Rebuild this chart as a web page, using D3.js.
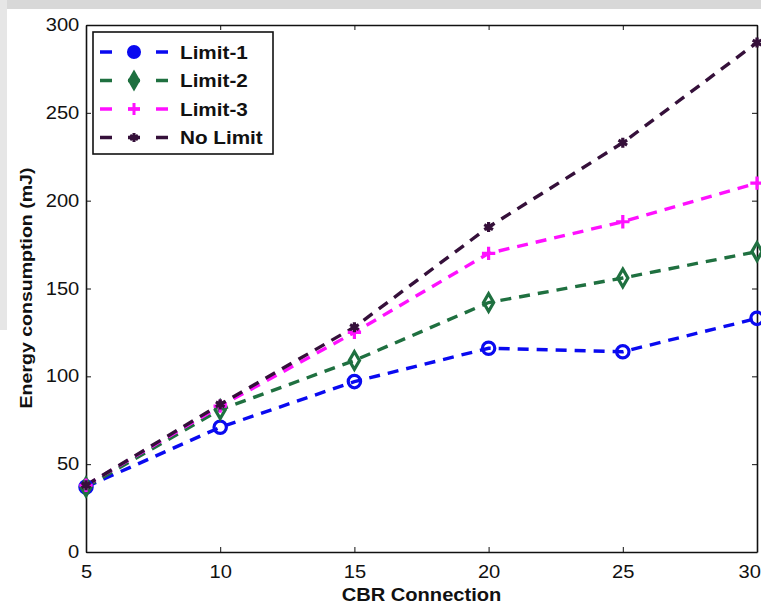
<!DOCTYPE html>
<html>
<head>
<meta charset="utf-8">
<script src="https://cdn.jsdelivr.net/npm/d3@7"></script>
<style>
  body { margin: 0; background: #fff; }
  text { font-family: "Liberation Sans", Arial, sans-serif; fill: #111; }
</style>
</head>
<body>
<svg class="chart"></svg>
<script>
const width = 761;
const height = 605;

// data
const connections = [5, 10, 15, 20, 25, 30];
const limit1 = [37, 71, 97, 116, 114, 133];
const limit2 = [37, 81, 109, 142, 156, 171];
const limit3 = [38, 83, 125, 170, 188, 210];
const noLimit = [38, 84, 128, 185, 233, 290];
const seriesNames = ['Limit-1', 'Limit-2', 'Limit-3', 'No Limit'];
const xTicks = [5, 10, 15, 20, 25, 30];
const yTicks = [0, 50, 100, 150, 200, 250, 300];

const series = [
  { name: seriesNames[0], values: limit1, color: '#0a0af0', symbol: d3.symbolCircle, size: 120 },
  { name: seriesNames[1], values: limit2, color: '#1f7040', symbol: d3.symbolDiamond, size: 90 },
  { name: seriesNames[2], values: limit3, color: '#ff10ff', symbol: d3.symbolPlus, size: 60 },
  { name: seriesNames[3], values: noLimit, color: '#35103a', symbol: d3.symbolAsterisk, size: 70 }
];

const margin = { top: 25, right: 4, bottom: 53, left: 86 };
const svg = d3.select('.chart').attr('width', width).attr('height', height);

// grey scan bands from the source page
svg.append('rect').attr('x', 0).attr('y', 0).attr('width', width).attr('height', 9).attr('fill', '#d8d8d8');
svg.append('rect').attr('x', 0).attr('y', 0).attr('width', 7).attr('height', 330).attr('fill', '#e6e6e6');

const x = d3.scaleLinear().domain([5, 30]).range([margin.left, width - margin.right]);
const y = d3.scaleLinear().domain([0, 300]).range([height - margin.bottom, margin.top]);
const stretch = 'scale(1.15,1)';

// axes with inward ticks
const xAxis = svg.append('g')
  .attr('transform', `translate(0,${y(0)})`)
  .call(d3.axisBottom(x).tickValues(xTicks).tickSize(-5).tickPadding(14).tickSizeOuter(0));
const xTop = svg.append('g')
  .attr('transform', `translate(0,${y(300)})`)
  .call(d3.axisTop(x).tickValues(xTicks).tickSize(-5).tickFormat('').tickSizeOuter(0));
const yAxis = svg.append('g')
  .attr('transform', `translate(${x(5)},0)`)
  .call(d3.axisLeft(y).tickValues(yTicks).tickSize(-5).tickPadding(6).tickSizeOuter(0));
const yRight = svg.append('g')
  .attr('transform', `translate(${x(30)},0)`)
  .call(d3.axisRight(y).tickValues(yTicks).tickSize(-5).tickFormat('').tickSizeOuter(0));

[xAxis, xTop, yAxis, yRight].forEach(g => {
  g.select('.domain').attr('stroke', '#111').attr('stroke-width', 1.6);
  g.selectAll('.tick line').attr('stroke', '#111').attr('stroke-width', 1);
});
xAxis.selectAll('text').style('font-size', '17.5px').attr('fill', '#222').attr('transform', stretch);
// the last label sits at the page edge; keep it inside
xAxis.selectAll('.tick').filter(d => d === 30).select('text')
  .attr('text-anchor', 'end').attr('x', 3);
yAxis.selectAll('text').style('font-size', '17.5px').attr('fill', '#222')
  .attr('x', -5).attr('transform', 'translate(-1,0) ' + stretch);

// axis titles
svg.append('text')
  .attr('transform', `translate(${(x(5) + x(30)) / 2},601) ${stretch}`)
  .attr('text-anchor', 'middle')
  .style('font-size', '17.5px').style('font-weight', 'bold')
  .text('CBR Connection');
svg.append('text')
  .attr('transform', `translate(32,288) rotate(-90) ${stretch}`)
  .attr('text-anchor', 'middle')
  .style('font-size', '17px').style('font-weight', 'bold')
  .attr('fill', '#1a1a3a')
  .text('Energy consumption (mJ)');

// series
const line = d3.line().x((d, i) => x(connections[i])).y(d => y(d));
const plot = svg.append('g');

series.forEach(s => {
  plot.append('path')
    .datum(s.values)
    .attr('d', line)
    .attr('fill', 'none')
    .attr('stroke', s.color)
    .attr('stroke-width', 3.4)
    .attr('stroke-dasharray', '11,8');
});

series.forEach(s => {
  plot.selectAll(null)
    .data(s.values)
    .enter()
    .append('path')
    .attr('transform', (d, i) => `translate(${x(connections[i])},${y(d)})`)
    .attr('d', d3.symbol(s.symbol, s.size))
    .attr('fill', 'none')
    .attr('stroke', s.color)
    .attr('stroke-width', 3.2);
});

// legend
const legend = svg.append('g');
legend.append('rect')
  .attr('x', 93).attr('y', 32).attr('width', 180).attr('height', 122)
  .attr('fill', '#fff').attr('stroke', '#111').attr('stroke-width', 1.6);

const rows = legend.selectAll('g.row')
  .data(series)
  .enter()
  .append('g')
  .attr('class', 'row')
  .attr('transform', (d, i) => `translate(0,${52 + i * 28.5})`);

rows.append('line')
  .attr('x1', 100).attr('x2', 168).attr('y1', 0).attr('y2', 0)
  .attr('stroke', d => d.color)
  .attr('stroke-width', 3.4)
  .attr('stroke-dasharray', '12,16');
rows.append('path')
  .attr('transform', 'translate(134,0)')
  .attr('d', d => d3.symbol(d.symbol, d.size * 0.8)())
  .attr('fill', d => d.color)
  .attr('stroke', d => d.color)
  .attr('stroke-width', 3);
rows.append('text')
  .attr('transform', `translate(180,6.5) ${stretch}`)
  .style('font-size', '18px').style('font-weight', 'bold')
  .text(d => d.name);
</script>
</body>
</html>
